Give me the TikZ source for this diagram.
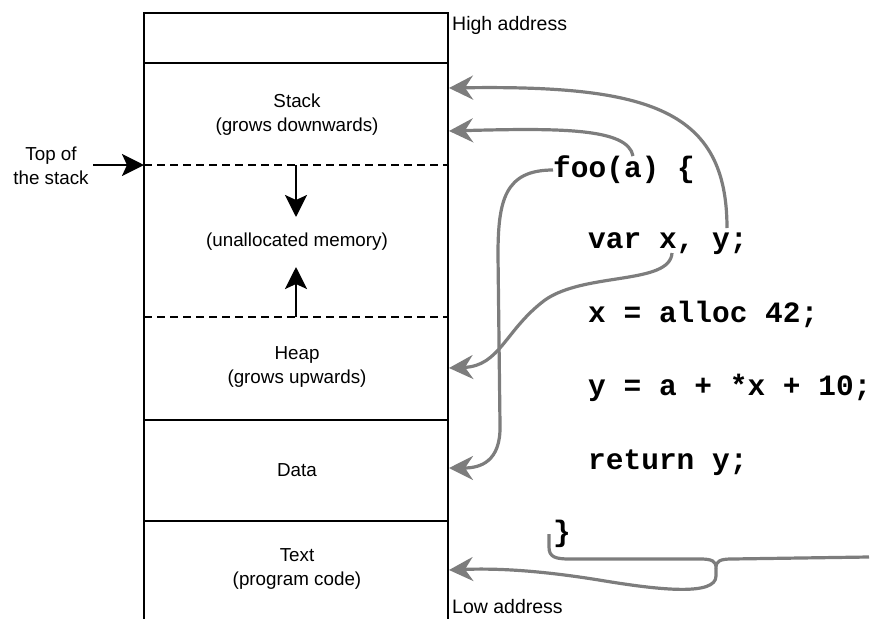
\documentclass[tikz,border=0pt]{standalone}
\usepackage{fontspec}
\setmainfont{Liberation Sans}
\newfontfamily\codefont{Liberation Mono}
\usetikzlibrary{arrows.meta}
\definecolor{ptrgray}{RGB}{125,125,125}
\begin{document}
\begin{tikzpicture}[x=1pt,y=-1pt,
  wall/.style={line width=2.6pt},
  divider/.style={line width=2.4pt, dash pattern=on 8pt off 5pt},
  lbl/.style={font=\fontsize{18.8}{24}\selectfont, inner sep=0pt, align=center},
  side/.style={font=\fontsize{19.5}{21}\selectfont, inner sep=0pt, anchor=west},
  code/.style={font=\codefont\bfseries\fontsize{29.5}{34}\selectfont, anchor=base west, inner sep=0pt},
  ptr/.style={draw=ptrgray, line width=3.2pt, -{Stealth[length=24pt,width=24pt,inset=8pt]}},
  bracepath/.style={draw=ptrgray, line width=3.2pt, line join=round},
  growarrow/.style={line width=2.6pt, -{Stealth[length=22pt,width=22pt,inset=5pt]}},
]
\useasboundingbox (0,0) rectangle (871,619);

% memory column
\draw[wall] (144,619) -- (144,13) -- (448,13) -- (448,619);
\draw[wall] (144,63) -- (448,63);
\draw[wall] (144,420) -- (448,420);
\draw[wall] (144,521) -- (448,521);
\draw[divider] (144,165) -- (448,165);
\draw[divider] (144,317) -- (448,317);

% region labels
\node[lbl] (stack) at (297,115) {Stack\\(grows downwards)};
\node[lbl] (free) at (297,242) {(unallocated memory)};
\node[lbl] (heap) at (297,367) {Heap\\(grows upwards)};
\node[lbl] (data) at (297,470) {Data};
\node[lbl] (text) at (297,569) {Text\\(program code)};
\node[side] (high) at (452,25) {High address};
\node[side] (low) at (452,607) {Low address};
\node[lbl] (tos) at (51,166) {Top of\\the stack};

% growth arrows
\coordinate (stacktop) at (296,165);
\coordinate (stackgrow) at (296,217);
\coordinate (heaptop) at (296,317);
\coordinate (heapgrow) at (296,267);
\draw[growarrow] (stacktop) -- (stackgrow);
\draw[growarrow] (heaptop) -- (heapgrow);
\coordinate (tosmark) at (144,165);
\coordinate (tosfrom) at (93,165);
\draw[growarrow] (tosfrom) -- (tosmark);

% program text
\node[code] (foo) at (553,177) {foo(a) \{};
\node[code] (decl) at (588,248) {var x, y;};
\node[code] (assignx) at (588,322) {x = alloc 42;};
\node[code] (assigny) at (588,395) {y = a + *x + 10;};
\node[code] (ret) at (588,469) {return y;};
\node[code] (close) at (553,541) {\}};

% pointer arrows into the column
\coordinate (yvar) at (727,228);
\coordinate (avar) at (633,156);
\coordinate (fooname) at (553,170);
\coordinate (xvar) at (672,253);
\coordinate (stackhi) at (449,88);
\coordinate (stacklo) at (449,131);
\coordinate (heapin) at (449,368);
\coordinate (datain) at (449,468);
\coordinate (textin) at (449,570);

\draw[ptr] (yvar) .. controls (727,110) and (650,85) .. (stackhi);
\draw[ptr] (avar) .. controls (628,128) and (560,128) .. (stacklo);
\draw[ptr] (fooname) .. controls (505,170) and (498,200) .. (498,255)
  -- (500,425) .. controls (501,462) and (480,468) .. (datain);
\draw[ptr] (xvar) .. controls (670,285) and (585,272) .. (545,300)
  .. controls (505,330) and (500,366) .. (heapin);

% brace under the function body
\coordinate (bracel) at (549,534);
\coordinate (bracer) at (869,557);
\coordinate (bracetip) at (716,568);
\draw[bracepath] (bracel) -- (549,547) .. controls (549,557) and (555,559) .. (570,559)
  -- (700,559) .. controls (712,559) and (716,561) .. (bracetip)
  .. controls (716,561) and (720,559) .. (732,559) -- (bracer);
\draw[ptr] (bracetip) -- (716,576) .. controls (716,596) and (660,590) .. (605,581)
  .. controls (545,571) and (500,568) .. (textin);
\end{tikzpicture}
\end{document}
